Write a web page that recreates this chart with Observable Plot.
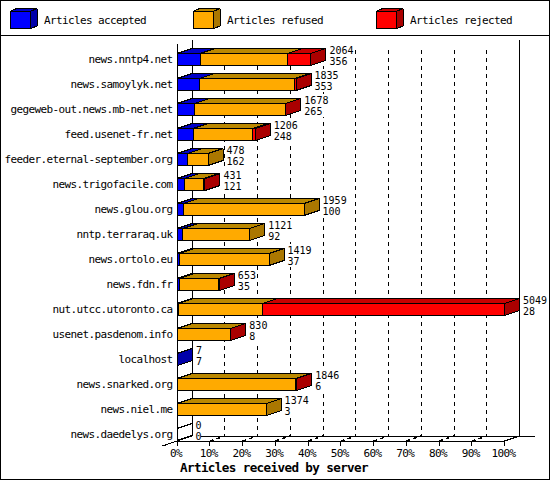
<!DOCTYPE html>
<html><head><meta charset="utf-8">
<script src="https://cdn.jsdelivr.net/npm/d3@7"></script>
<script src="https://cdn.jsdelivr.net/npm/@observablehq/plot@0.6"></script>
<style>
html,body{margin:0;padding:0;background:#fff}
svg{display:block;outline:1px solid #000;outline-offset:-1px}
svg text{letter-spacing:-.62px}
svg g[font-size="10"] text{letter-spacing:0}
</style></head><body><div id="c"></div>
<script>
const servers = ["news.nntp4.net","news.samoylyk.net","gegeweb-out.news.mb-net.net","feed.usenet-fr.net","feeder.eternal-september.org","news.trigofacile.com","news.glou.org","nntp.terraraq.uk","news.ortolo.eu","news.fdn.fr","nut.utcc.utoronto.ca","usenet.pasdenom.info","localhost","news.snarked.org","news.niel.me","news.daedelys.org"];
const totals = [2064,1835,1678,1206,478,431,1959,1121,1419,653,5049,830,7,1846,1374,0];
const accepted = [356,353,265,248,162,121,100,92,37,35,28,8,7,6,3,0];
const rejected = [360,18,10,40,0,25,0,0,0,10,3736,10,0,12,0,0];
const maxTotal = 5049;
const legendNames = ["Articles accepted","Articles refused","Articles rejected"];
const pctTicks = [0,10,20,30,40,50,60,70,80,90,100];

const colors = {
  acc:{front:"#0000ff",top:"#0000c8",side:"#0000aa"},
  ref:{front:"#ffaa00",top:"#bb8800",side:"#aa7700"},
  rej:{front:"#ff0000",top:"#c80000",side:"#aa0000"}
};
const kinds = ["acc","ref","rej"];

// scale layout
const x0px=176.5, x100px=504, y0px=59, rowPx=25;
const pxPerPct=(x100px-x0px)/100;
const X=px=>(px-x0px)/pxPerPct, Y=py=>(py-y0px)/rowPx;
const DX=15/pxPerPct, DY=5/rowPx, HALF=6/rowPx;

const polys=[]; let pid=0;
function poly(pts,fill){const id=pid++;[...pts,pts[0]].forEach(p=>polys.push({x:p[0],y:p[1],id,fill}));}
function box(segs,yc,half,dx,dy){
  segs.forEach(s=>poly([[s.a,yc-half],[s.b,yc-half],[s.b+dx,yc-half-dy],[s.a+dx,yc-half-dy]],s.c.top));
  segs.forEach(s=>poly([[s.a,yc-half],[s.b,yc-half],[s.b,yc+half],[s.a,yc+half]],s.c.front));
}
function side(xe,yc,half,dx,dy,fill){
  poly([[xe,yc-half],[xe+dx,yc-half-dy],[xe+dx,yc+half-dy],[xe,yc+half]],fill);
}
servers.forEach((_,i)=>{
  const vals=[accepted[i],totals[i]-accepted[i]-rejected[i],rejected[i]];
  let a=0; const segs=[]; let last=null;
  vals.forEach((v,k)=>{ if(v>0){const b=a+v/maxTotal*100;segs.push({a,b,c:colors[kinds[k]]});a=b;last=colors[kinds[k]];} });
  box(segs,i,HALF,DX,DY);
  side(a,i,HALF,DX,DY,last?last.side:"none");
});
// legend boxes
const legendX=[9.5,192.5,375.5];
const legendData=legendNames.map((name,k)=>({name,k,tx:X(legendX[k]+34)}));
legendX.forEach((lx,k)=>{
  const a=X(lx),b=X(lx+20.5),yc=Y(19.5),h=8.7/rowPx,dx=6.5/pxPerPct,dy=2.7/rowPx,c=colors[kinds[k]];
  box([{a,b,c}],yc,h,dx,dy);
  side(b,yc,h,dx,dy,c.side);
});

const font="'DejaVu Sans Mono','Liberation Mono',monospace";
const rows=servers.map((s,i)=>({s,i,t:totals[i],a:accepted[i],xe:totals[i]/maxTotal*100}));
const gridPct=pctTicks.slice(1,-1);
const txt=(extra)=>({fontFamily:font,fontSize:11,fill:"#000",...extra});
const val=(extra)=>({fontFamily:font,fontSize:10,fill:"#000",...extra});
const labelW=d=>Math.max(String(d.t).length,String(d.a).length)*6+1;

const chart=Plot.plot({
  width:550,height:480,margin:0,
  style:{background:"#fff",shapeRendering:"crispEdges"},
  x:{domain:[0,100],range:[x0px,x100px],axis:null},
  y:{domain:[0,15],range:[y0px,y0px+15*rowPx],axis:null},
  color:{type:"identity"},
  marks:[
    // legend separator
    Plot.ruleY([Y(35)],{x1:X(0),x2:X(550),stroke:"#000",strokeWidth:1}),
    // dashed grid on the back wall
    Plot.ruleX(gridPct,{x:d=>d+DX,y1:Y(50),y2:Y(435.5),stroke:"#000",strokeWidth:1,strokeDasharray:"4,4"}),
    // white backing of the value labels
    Plot.rect(rows,{x1:d=>d.xe+DX+3.5/pxPerPct,x2:d=>d.xe+DX+(3.5+labelW(d))/pxPerPct,y1:d=>d.i-15/rowPx,y2:d=>d.i+8/rowPx,fill:"#fff"}),
    // walls
    Plot.ruleX([DX,100+DX],{y1:Y(40),y2:Y(435.5),stroke:"#000",strokeWidth:1}),
    Plot.ruleX([0],{y1:Y(44),y2:Y(445),stroke:"#000",strokeWidth:1}),
    // floor
    Plot.ruleY([Y(435.5)],{x1:X(201),x2:X(535),stroke:"#000",strokeWidth:1}),
    Plot.ruleY([Y(440.5)],{x1:0,x2:100,stroke:"#000",strokeWidth:1}),
    Plot.link([0],{x1:X(162),y1:Y(445.5),x2:DX,y2:Y(435.5),stroke:"#000",strokeWidth:1}),
    Plot.link([100],{x1:100,y1:Y(440.5),x2:100+DX,y2:Y(435.5),stroke:"#000",strokeWidth:1}),
    Plot.link(gridPct,{x1:d=>d,y1:Y(440.5),x2:d=>d+DX,y2:Y(435.5),stroke:"#000",strokeWidth:1.5,strokeDasharray:"4,3"}),
    Plot.ruleX(pctTicks,{y1:Y(440.5),y2:Y(445.5),stroke:"#000",strokeWidth:1}),
    // bars and legend boxes
    Plot.line(polys,{x:"x",y:"y",z:"id",fill:"fill",stroke:"#000",strokeWidth:1}),
    // text
    Plot.text(rows,txt({x:X(172),y:"i",text:"s",textAnchor:"end"})),
    Plot.text(rows,val({x:d=>d.xe+DX,dx:3.5,y:d=>d.i-9/rowPx,text:d=>String(d.t),textAnchor:"start"})),
    Plot.text(rows,val({x:d=>d.xe+DX,dx:3.5,y:d=>d.i+2.5/rowPx,text:d=>String(d.a),textAnchor:"start"})),
    Plot.text(pctTicks,txt({x:d=>d,dx:-1,y:Y(452.5),text:d=>d+"%"})),
    Plot.text(legendData,txt({x:"tx",y:Y(20),text:"name",textAnchor:"start"})),
    Plot.text(["Articles received by server"],{x:X(273.5),y:Y(467),text:d=>d,fontFamily:font,fontSize:12.6,fontWeight:"bold",fill:"#000"})
  ]
});
document.getElementById("c").appendChild(chart);
</script></body></html>
